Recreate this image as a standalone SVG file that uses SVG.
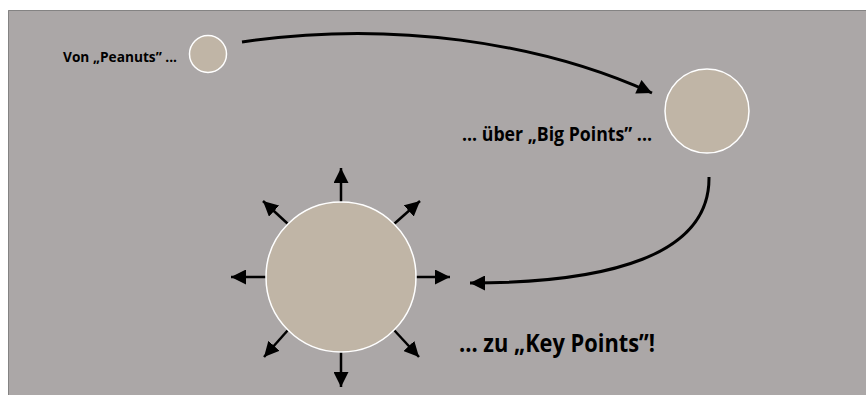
<svg xmlns="http://www.w3.org/2000/svg" width="866" height="395" viewBox="0 0 866 395">
  <defs>
    <marker id="head" viewBox="0 0 10 10" refX="10" refY="5" markerWidth="5.5" markerHeight="5" orient="auto" markerUnits="strokeWidth">
      <path d="M0,0 L10,5 L0,10 Z" fill="#000"/>
    </marker>
    <marker id="headBig" viewBox="0 0 10 10" refX="10" refY="5" markerWidth="6" markerHeight="6" orient="auto" markerUnits="strokeWidth">
      <path d="M0,0 L10,5 L0,10 Z" fill="#000"/>
    </marker>
  </defs>
  <style>
    .panel { fill: #aba7a7; stroke: #333; stroke-width: 1; stroke-dasharray: 1 1; }
    .dot { fill: #c0b5a6; stroke: #fff; stroke-width: 1.5; }
    .flow { fill: none; stroke: #000; stroke-width: 3; marker-end: url(#head); }
    .ray { fill: none; stroke: #000; stroke-width: 2.5; marker-end: url(#headBig); }
    .label { font-family: "Open Sans", "Liberation Sans", sans-serif; font-weight: 700; fill: #000; }
  </style>

  <!-- background panel -->
  <rect class="panel" x="8.5" y="10.5" width="870" height="400"/>

  <!-- connectors -->
  <g id="connectors">
    <path class="flow" d="M242,42 C390,20 540,42 652,93"/>
    <path class="flow" d="M709,177 C710,255 610,283 470,283"/>
  </g>

  <!-- rays around the key point -->
  <g id="rays">
    <path class="ray" d="M341,202 L341,168"/>
    <path class="ray" d="M341,352 L341,387"/>
    <path class="ray" d="M266,277 L231,277"/>
    <path class="ray" d="M416,277 L450,277"/>
    <path class="ray" d="M288,224 L263,201"/>
    <path class="ray" d="M394,224 L420,201"/>
    <path class="ray" d="M288,330 L264,357"/>
    <path class="ray" d="M394,330 L419,357"/>
  </g>

  <g id="peanuts">
    <circle class="dot" cx="208" cy="54" r="18.5"/>
    <text class="label" x="63" y="62" font-size="15" textLength="114" lengthAdjust="spacingAndGlyphs">Von „Peanuts” ...</text>
  </g>

  <g id="big-points">
    <circle class="dot" cx="707" cy="111" r="42"/>
    <text class="label" x="462" y="141" font-size="20" textLength="190" lengthAdjust="spacingAndGlyphs">... über „Big Points” ...</text>
  </g>

  <g id="key-points">
    <circle class="dot" cx="341" cy="277" r="75"/>
    <text class="label" x="459" y="352" font-size="24.5" textLength="196" lengthAdjust="spacingAndGlyphs">... zu „Key Points”!</text>
  </g>
</svg>
